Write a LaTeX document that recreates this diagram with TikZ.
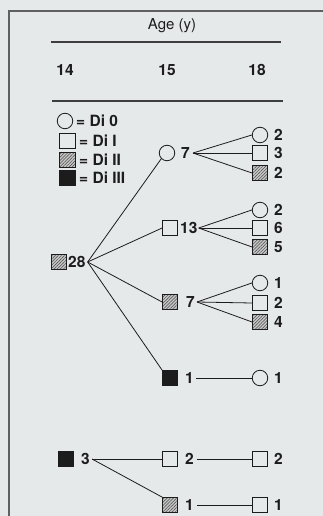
\documentclass[tikz,border=0pt]{standalone}
\usepackage{fontspec}
\setmainfont{TeX Gyre Heros}
\usetikzlibrary{patterns.meta}
\definecolor{bg}{RGB}{230,233,234}
\definecolor{ink}{RGB}{28,28,28}
\begin{document}
\begin{tikzpicture}[x=1pt,y=-1pt,
  every node/.style={font=\fontsize{15.5}{18}\selectfont\bfseries, text=ink, inner sep=0pt},
  shp/.style={draw=ink, line width=0.8pt},
  circ/.style={shp, circle, minimum size=15.5pt},
  sq/.style={shp, rectangle, minimum size=15pt},
  lsq/.style={shp, rectangle, minimum width=16pt, minimum height=15pt},
  hatch/.style={preaction={fill=gray!45}, pattern={Lines[angle=45,distance=2.2pt,line width=0.5pt]}, pattern color=ink!80},
  hsq/.style={sq, hatch},
  bsq/.style={sq, fill=ink},
  num/.style={anchor=west},
  conn/.style={draw=ink, line width=0.8pt},
  rule/.style={draw=ink!85, line width=1.3pt}
]
\fill[bg] (0,0) rectangle (323,516);
\useasboundingbox (0,0) rectangle (323,516);
\draw[ink!70, line width=1.2pt] (9,516) -- (9,11) -- (323,11);

% header
\node[font=\fontsize{15}{18}\selectfont] (age) at (172,26) {Age (y)};
\coordinate (r1a) at (51,42); \coordinate (r1b) at (281,42);
\draw[rule] (r1a) -- (r1b);
\node (y14) at (65,70) {14};
\node (y15) at (167,70) {15};
\node (y18) at (257,70) {18};
\coordinate (r2a) at (52,101); \coordinate (r2b) at (283,101);
\draw[rule] (r2a) -- (r2b);

% legend
\node[circ] (k0) at (65,121) {};
\node[num] (kt0) at (76,121) {= Di 0};
\node[lsq] (k1) at (67,141) {};
\node[num] (kt1) at (79,141) {= Di I};
\node[lsq, hatch] (k2) at (67,160) {};
\node[num] (kt2) at (79,160) {= Di II};
\node[lsq, fill=ink] (k3) at (67,178) {};
\node[num] (kt3) at (79,178) {= Di III};

% age 14
\node[hsq] (h28) at (59,262) {};
\node[num] (l28) at (68,262) {28};
\node[bsq] (b3) at (66,459) {};
\node[num] (l3) at (81,459) {3};

% age 15
\node[circ] (c7) at (167,153) {};
\node[num] (l7) at (181,153) {7};
\node[sq] (s13) at (170,228) {};
\node[num] (l13) at (180,228) {13};
\node[hsq] (h7) at (170,302) {};
\node[num] (lh7) at (186,302) {7};
\node[bsq] (b1) at (170,378) {};
\node[num] (lb1) at (185,378) {1};
\node[sq] (s2) at (170,459) {};
\node[num] (ls2) at (185,459) {2};
\node[hsq] (h1) at (170,505) {};
\node[num] (lh1) at (185,505) {1};

% age 18
\foreach \n/\s/\y/\t in {a/circ/135/2, b/sq/153/3, c/hsq/173/2,
                         d/circ/210/2, e/sq/228/6, f/hsq/247/5,
                         g/circ/283/1, h/sq/303/2, i/hsq/322/4,
                         j/circ/378/1, k/sq/459/2, m/sq/505/1}{
  \node[\s] (t\n) at (260,\y) {};
  \node[num] (u\n) at (274,\y) {\t};
}

% connectors
\coordinate (o28) at ([xshift=2pt]l28.east);
\draw[conn] (o28) -- (c7.south west);
\draw[conn] (o28) -- (s13.west);
\draw[conn] (o28) -- (h7.west);
\draw[conn] (o28) -- (b1.north west);

\coordinate (o7) at ([xshift=3pt]l7.east);
\foreach \c in {a,b,c} \draw[conn] (o7) -- (t\c.west);
\coordinate (o13) at ([xshift=1pt]l13.east);
\foreach \c in {d,e,f} \draw[conn] (o13) -- (t\c.west);
\coordinate (oh7) at ([xshift=2pt]lh7.east);
\foreach \c in {g,h,i} \draw[conn] (oh7) -- (t\c.west);
\draw[conn] ([xshift=2pt]lb1.east) -- (tj.west);

\coordinate (o3) at ([xshift=2pt]l3.east);
\draw[conn] (o3) -- (s2.west);
\draw[conn] (o3) -- (h1.north west);
\draw[conn] ([xshift=3pt]ls2.east) -- (tk.west);
\draw[conn] ([xshift=3pt]lh1.east) -- (tm.west);
\end{tikzpicture}
\end{document}
